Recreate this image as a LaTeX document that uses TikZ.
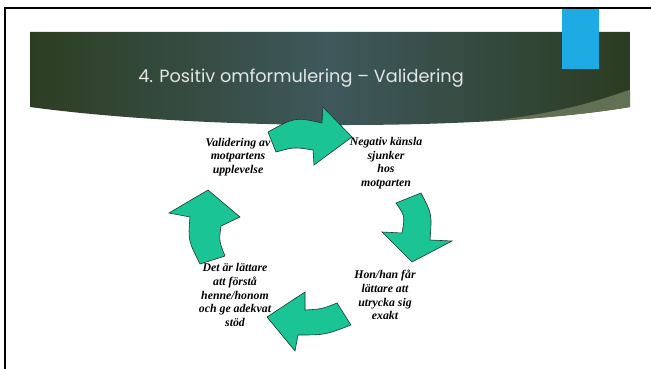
\documentclass[tikz,border=0pt]{standalone}
\usepackage{fontspec}
\setmainfont{Liberation Serif}
\newfontfamily\titlefont{Poppins}
\definecolor{bandL}{RGB}{44,62,34}
\definecolor{bandM}{RGB}{62,88,92}
\definecolor{bandR}{RGB}{43,60,34}
\definecolor{bandLight}{RGB}{98,112,84}
\definecolor{blueBox}{RGB}{30,170,226}
\definecolor{arrowFill}{RGB}{26,196,148}
\definecolor{arrowLine}{RGB}{25,55,45}
\definecolor{titleGray}{RGB}{226,230,230}
\tikzset{
  cyclearrow/.style={fill=arrowFill, draw=arrowLine, line width=0.6pt, line join=miter},
  lbl/.style={align=center, inner sep=0pt, font=\bfseries\itshape\fontsize{11.8}{13.6}\selectfont, text=black},
  frameline/.style={draw=black, line width=2pt}
}
\begin{document}
\begin{tikzpicture}[x=1pt,y=-1pt]
\useasboundingbox (0,0) rectangle (651,369);
\fill[white] (0,0) rectangle (651,369);
% frame
\draw[frameline] (5,369) -- (5,8) -- (651,8);
% title band
\path[left color=bandL, right color=bandR, middle color=bandM]
  (30,32) -- (630,32) -- (630,107) .. controls (480,132) and (200,130) .. (30,107) -- cycle;
\begin{scope}
  \clip (30,32) -- (630,32) -- (630,107) .. controls (480,132) and (200,130) .. (30,107) -- cycle;
  \fill[bandLight] (470,140) -- (470,123) .. controls (565,114) and (605,98) .. (632,89) -- (632,140) -- cycle;
\end{scope}
% blue box
\fill[blueBox] (562,9) rectangle (599,69);
% title
\node[font=\titlefont\fontsize{17.7}{20}\selectfont, text=titleGray, inner sep=0pt, anchor=base] (title) at (301,83) {4. Positiv omformulering – Validering};
% arrows
\path[cyclearrow] (268,132) .. controls (295,117) .. (322,123) -- (323,107) -- (352,137) -- (314,165) -- (313,150) .. controls (294,147) .. (276,152) -- cycle;
\path[cyclearrow] (396,203) -- (421,193) .. controls (432,214) .. (430,240) -- (452,241) -- (412,262) -- (382,232) -- (402,233) .. controls (405,216) .. (396,203) -- cycle;
\path[cyclearrow] (351,325) .. controls (325,335) .. (298,335) -- (295,351) -- (267,317) -- (305,292) -- (305,310) .. controls (322,309) .. (337,303) -- cycle;
\path[cyclearrow] (225,256) -- (200,264) .. controls (188,240) .. (190,217) -- (169,213) -- (208,190) -- (240,217) -- (221,226) .. controls (219,241) .. (225,256) -- cycle;
% labels
\node[lbl] (valid) at (238,157) {Validering av\\motpartens\\upplevelse};
\node[lbl] (neg) at (386,163) {Negativ känsla\\sjunker\\hos\\motparten};
\node[lbl] (hon) at (385,295) {Hon/han får\\lättare att\\utrycka sig\\exakt};
\node[lbl] (det) at (235,295) {Det är lättare\\att förstå\\henne/honom\\och ge adekvat\\stöd};
\end{tikzpicture}
\end{document}
